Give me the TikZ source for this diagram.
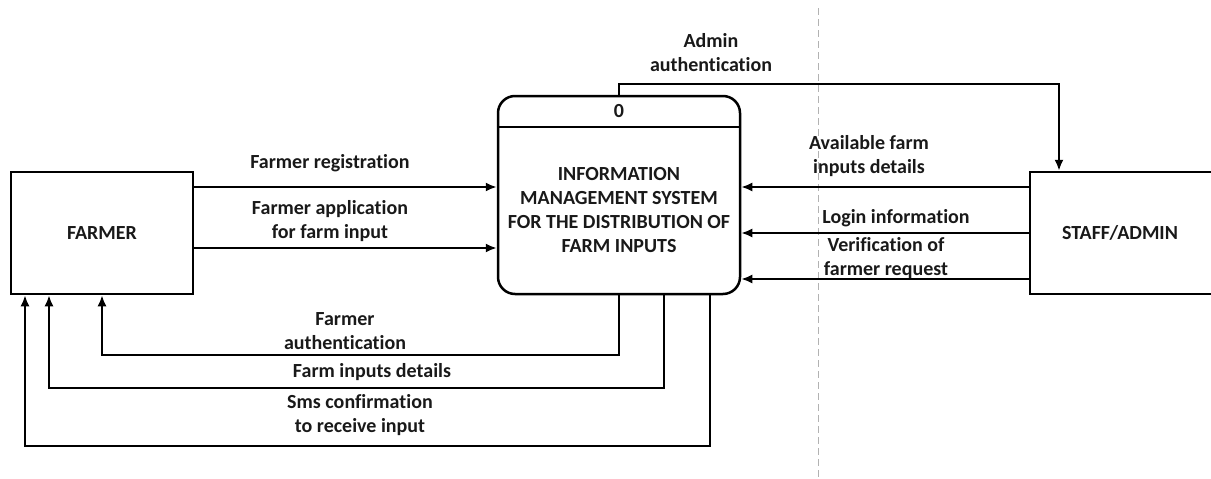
\documentclass[tikz,border=0pt]{standalone}
\usepackage{fontspec}
\setmainfont{Carlito}[Ligatures=NoCommon]
\usetikzlibrary{arrows.meta}

\tikzset{
  entity/.style={draw, line width=2.5pt, rectangle, inner sep=0pt},
  procbox/.style={draw, line width=2.5pt, rectangle, rounded corners=17pt, inner sep=0pt,
    minimum width=242pt, minimum height=198pt},
  lbl/.style={inner sep=0pt, align=center, font=\fontsize{20}{24}\selectfont\bfseries, text=black!90},
  flow/.style={line width=2pt, -{Latex[length=11pt,width=9pt]}},
  boundary/.style={line width=1pt, black!30, dash pattern=on 7pt off 4pt}
}

\begin{document}
\begin{tikzpicture}[x=1pt, y=-1pt]
\useasboundingbox (0,0) rectangle (1211,479);
\clip (0,0) rectangle (1211,479);

% system boundary
\draw[boundary] (818,8) -- (818,479);

% external entities and the process
\node[entity, minimum width=182pt, minimum height=122pt] (farmer) at (102,233) {};
\node[lbl] (farmertext) at (102,233) {FARMER};

\node[entity, minimum width=200pt, minimum height=122pt] (staff) at (1130,233) {};
\node[lbl] (stafftext) at (1120,233) {STAFF/ADMIN};

\node[procbox] (proc) at (619,195) {};
\coordinate (hdr) at (0,127);
\draw[line width=2.5pt] (proc.west |- hdr) -- (proc.east |- hdr);
\node[lbl] (procid) at (619,111) {0};
\node[lbl] (procname) at (619,210) {INFORMATION\\MANAGEMENT SYSTEM\\FOR THE DISTRIBUTION OF\\FARM INPUTS};

% farmer -> process
\coordinate (y1) at (0,187);
\coordinate (y2) at (0,248);
\draw[flow] (farmer.east |- y1) -- (proc.west |- y1);
\draw[flow] (farmer.east |- y2) -- (proc.west |- y2);
\node[lbl] (l1) at (330,163) {Farmer registration};
\node[lbl] (l2) at (330,221) {Farmer application\\for farm input};

% staff -> process
\coordinate (y3) at (0,233);
\coordinate (y4) at (0,279);
\draw[flow] (staff.west |- y1) -- (proc.east |- y1);
\draw[flow] (staff.west |- y3) -- (proc.east |- y3);
\draw[flow] (staff.west |- y4) -- (proc.east |- y4);
\node[lbl] (l3) at (869,156) {Available farm\\inputs details};
\node[lbl] (l4) at (896,218) {Login information};
\node[lbl] (l5) at (886,258) {Verification of\\farmer request};

% process -> staff
\coordinate (adm) at (1059,84);
\draw[flow] (proc.north) |- (adm) -- (adm |- staff.north);
\node[lbl] (l6) at (711,53) {Admin\\authentication};

% process -> farmer
\coordinate (r1) at (0,355);
\coordinate (p2) at (664,388);
\coordinate (f2) at (49,388);
\coordinate (p3) at (710,446);
\coordinate (f3) at (25,446);
\draw[flow] (proc.south) |- (farmer.south |- r1) -- (farmer.south);
\draw[flow] (p2 |- proc.south) -- (p2) -- (f2) -- (f2 |- farmer.south);
\draw[flow] (p3 |- proc.south) -- (p3) -- (f3) -- (f3 |- farmer.south);
\node[lbl] (l7) at (345,331) {Farmer\\authentication};
\node[lbl] (l8) at (372,372) {Farm inputs details};
\node[lbl] (l9) at (360,415) {Sms confirmation\\to receive input};
\end{tikzpicture}
\end{document}
